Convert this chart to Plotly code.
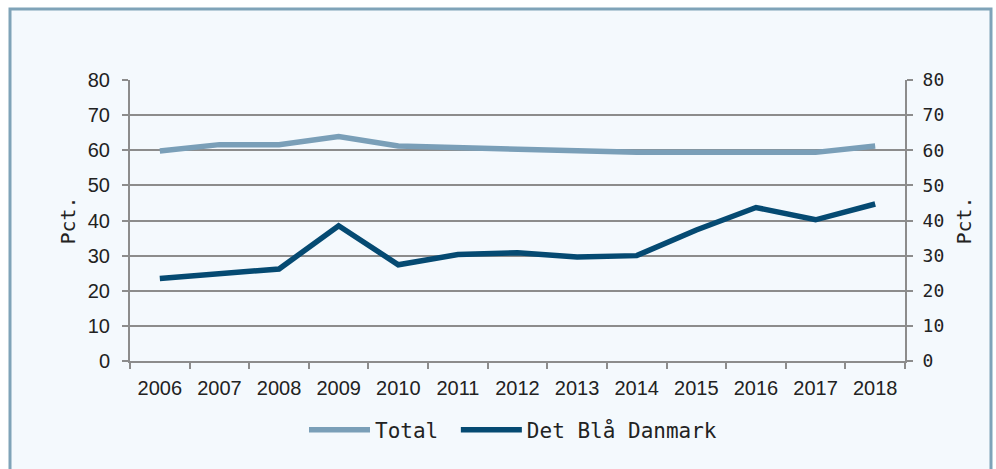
import plotly.graph_objects as go

years = ["2006", "2007", "2008", "2009", "2010", "2011", "2012",
         "2013", "2014", "2015", "2016", "2017", "2018"]
total = [59.8, 61.6, 61.6, 63.9, 61.2, 60.8, 60.1, 59.8, 59.4, 59.4, 59.4, 59.4, 61.2]
det_blaa = [23.5, 25.0, 26.2, 38.5, 27.4, 30.3, 30.8, 29.6, 30.0, 37.3, 43.7, 40.2, 44.7]
y_ticks = [0, 10, 20, 30, 40, 50, 60, 70, 80]

W, H = 996, 469
ML, MR, MT, MB = 130, 91, 80, 108
pw = W - ML - MR
ph = H - MT - MB

fig = go.Figure()
fig.add_trace(go.Scatter(x=years, y=total, name="Total\u00a0", mode="lines",
                         line=dict(color="#7A9FB8", width=5.5), yaxis="y"))
fig.add_trace(go.Scatter(x=years, y=det_blaa, name="Det Blå Danmark", mode="lines",
                         line=dict(color="#054A72", width=5.5), yaxis="y2"))

grid = "#8C8C8C"
mono = "DejaVu Sans Mono"
sans = "Liberation Sans, Arial, sans-serif"

fig.update_layout(
    width=W, height=H,
    margin=dict(l=ML, r=MR, t=MT, b=MB),
    paper_bgcolor="white",
    plot_bgcolor="white",
    showlegend=True,
    legend=dict(orientation="h", x=(304 - ML) / pw, xanchor="left",
                y=-(430 - (MT + ph)) / ph,
                yanchor="middle", font=dict(family=mono, size=21, color="#222"),
                bgcolor="rgba(0,0,0,0)", itemwidth=61, traceorder="normal"),
    xaxis=dict(type="category", range=[-0.5, 12.5], showgrid=False,
               showline=True, linecolor=grid, linewidth=2,
               ticks="outside", tickson="boundaries", ticklen=6, tickwidth=2,
               tickcolor=grid, ticklabelstandoff=8,
               tickfont=dict(family=sans, size=20, color="#222")),
    yaxis=dict(range=[0, 80], tickvals=y_ticks, showgrid=True, gridcolor=grid,
               gridwidth=2, showline=True, linecolor=grid, linewidth=2,
               ticks="outside", ticklen=6, tickwidth=2, tickcolor=grid,
               ticklabelstandoff=8, zeroline=False,
               tickfont=dict(family=sans, size=20, color="#222"),
               title=dict(text="Pct.", font=dict(family=mono, size=20, color="#222"),
                          standoff=7)),
    yaxis2=dict(range=[0, 80], tickvals=y_ticks, overlaying="y", side="right",
                showgrid=False, showline=True, linecolor=grid, linewidth=2,
                ticks="outside", ticklen=6, tickwidth=2, tickcolor=grid,
                ticklabelstandoff=6, zeroline=False,
                tickfont=dict(family=mono, size=18, color="#222"),
                title=dict(text="Pct.", font=dict(family=mono, size=20, color="#222"),
                           standoff=14)),
)

# outer frame (decoration)
x0 = (10 - ML) / pw
x1 = (991 - ML) / pw
y1 = (MT + ph - 9) / ph
y0 = (MT + ph - 480) / ph
fig.add_shape(type="rect", xref="paper", yref="paper", x0=x0, x1=x1, y0=y0, y1=y1,
              line=dict(color="#7FA3B8", width=3), fillcolor="#F4F9FD", layer="below")

fig.write_html("out.html", config={"displayModeBar": False},
               post_script="document.body.style.margin='0';")
